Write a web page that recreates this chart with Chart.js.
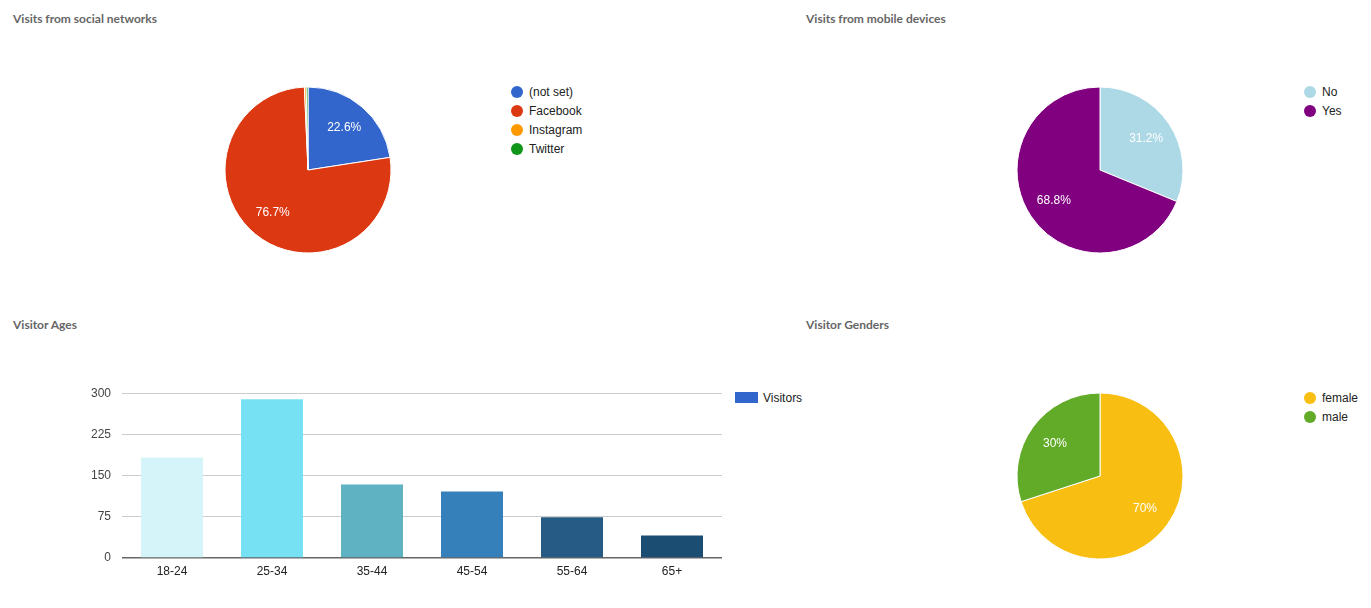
<!DOCTYPE html>
<html>
<head>
<meta charset="utf-8">
<script src="https://cdn.jsdelivr.net/npm/chart.js@4"></script>
<style>
  body { margin: 0; background: #fff; width: 1371px; height: 608px; position: relative; overflow: hidden; font-family: "Liberation Sans", Arial, sans-serif; }
  .title { position: absolute; font-family: Lato, sans-serif; font-weight: bold; font-size: 12px; color: #666; }
  .box { position: absolute; }
  .legend { position: absolute; font-size: 12px; color: #222; }
  .legend div { height: 19px; line-height: 12px; white-space: nowrap; }
  .legend span.dot { display: inline-block; width: 12px; height: 12px; border-radius: 50%; vertical-align: top; margin-right: 6px; }
  .legend span.sq { display: inline-block; width: 23px; height: 11px; vertical-align: top; margin-right: 5px; }
</style>
</head>
<body>
<div class="title" style="left:13px;top:11px">Visits from social networks</div>
<div class="title" style="left:806px;top:11px">Visits from mobile devices</div>
<div class="title" style="left:13px;top:317px">Visitor Ages</div>
<div class="title" style="left:806px;top:317px">Visitor Genders</div>

<div class="box" style="left:208px;top:70px;width:200px;height:200px"><canvas id="social"></canvas></div>
<div class="legend" id="socialLegend" style="left:511px;top:86px"></div>

<div class="box" style="left:1000px;top:70px;width:200px;height:200px"><canvas id="mobile"></canvas></div>
<div class="legend" id="mobileLegend" style="left:1304px;top:86px"></div>

<div class="box" style="left:82px;top:375px;width:640px;height:215px"><canvas id="ages"></canvas></div>
<div class="legend" id="agesLegend" style="left:735px;top:392px"></div>

<div class="box" style="left:1000px;top:376px;width:200px;height:200px"><canvas id="genders"></canvas></div>
<div class="legend" id="gendersLegend" style="left:1304px;top:392px"></div>

<script>
// social networks
const socialLabels = ['(not set)', 'Facebook', 'Instagram', 'Twitter'];
const socialValues = [65, 221, 1, 1];
const socialColors = ['#3366cc', '#dc3912', '#ff9900', '#109618'];

// mobile devices
const mobileLabels = ['No', 'Yes'];
const mobileValues = [31.2, 68.8];
const mobileColors = ['#add8e6', '#800080'];

// ages
const ageLabels = ['18-24', '25-34', '35-44', '45-54', '55-64', '65+'];
const ageValues = [183, 289, 134, 121, 74, 41];
const ageColors = ['#d4f4f9', '#76e1f3', '#5eb2c2', '#3580ba', '#255b84', '#1b4d73'];
const ageTicks = [0, 75, 150, 225, 300];

// genders
const genderLabels = ['female', 'male'];
const genderValues = [70, 30];
const genderColors = ['#f9be12', '#62ab29'];

Chart.defaults.font.family = '"Liberation Sans", Arial, sans-serif';
Chart.defaults.font.size = 12;
Chart.defaults.animation = false;

// percentage labels inside the slices
const pctLabels = {
  id: 'pctLabels',
  afterDatasetsDraw(chart) {
    const ctx = chart.ctx;
    const ds = chart.data.datasets[0];
    const total = ds.data.reduce((a, b) => a + b, 0);
    ctx.save();
    ctx.fillStyle = '#fff';
    ctx.font = '12px "Liberation Sans", Arial, sans-serif';
    ctx.textAlign = 'center';
    ctx.textBaseline = 'middle';
    chart.getDatasetMeta(0).data.forEach((arc, i) => {
      const pct = ds.data[i] / total * 100;
      if (pct < 5) return;
      const p = arc.getProps(['x', 'y', 'startAngle', 'endAngle', 'outerRadius'], true);
      const mid = (p.startAngle + p.endAngle) / 2;
      const r = p.outerRadius * 0.67;
      const txt = (Math.round(pct * 10) / 10) + '%';
      ctx.fillText(txt, p.x + Math.cos(mid) * r, p.y + Math.sin(mid) * r);
    });
    ctx.restore();
  }
};

function makePie(id, labels, values, colors) {
  new Chart(document.getElementById(id), {
    type: 'pie',
    data: {
      labels: labels,
      datasets: [{ data: values, backgroundColor: colors, borderColor: '#fff', borderWidth: 1 }]
    },
    options: {
      responsive: true,
      maintainAspectRatio: false,
      radius: 83,
      plugins: { legend: { display: false }, tooltip: { enabled: false } }
    },
    plugins: [pctLabels]
  });
}

function makeLegend(id, labels, colors, cls) {
  const el = document.getElementById(id);
  labels.forEach((l, i) => {
    const row = document.createElement('div');
    row.innerHTML = '<span class="' + cls + '" style="background:' + colors[i] + '"></span>' + l;
    el.appendChild(row);
  });
}

makePie('social', socialLabels, socialValues, socialColors);
makeLegend('socialLegend', socialLabels, socialColors, 'dot');
makePie('mobile', mobileLabels, mobileValues, mobileColors);
makeLegend('mobileLegend', mobileLabels, mobileColors, 'dot');
makePie('genders', genderLabels, genderValues, genderColors);
makeLegend('gendersLegend', genderLabels, genderColors, 'dot');

new Chart(document.getElementById('ages'), {
  type: 'bar',
  data: {
    labels: ageLabels,
    datasets: [{
      label: 'Visitors',
      data: ageValues,
      backgroundColor: ageColors,
      barPercentage: 0.62,
      categoryPercentage: 1
    }]
  },
  options: {
    responsive: true,
    maintainAspectRatio: false,
    layout: { padding: { top: 8, right: 0 } },
    plugins: { legend: { display: false }, tooltip: { enabled: false } },
    scales: {
      y: {
        min: 0,
        max: 300,
        afterBuildTicks: s => { s.ticks = ageTicks.map(v => ({ value: v })); },
        afterFit: s => { s.width = 40; },
        border: { display: false },
        grid: {
          color: c => c.tick.value === 0 ? '#666' : '#ccc',
          lineWidth: c => c.tick.value === 0 ? 1.5 : 1,
          drawTicks: false
        },
        ticks: { color: '#444', padding: 11 }
      },
      x: {
        afterFit: s => { s.height = 32; },
        grid: { display: false, drawTicks: false },
        border: { display: false },
        ticks: { color: '#222', padding: 6 }
      }
    }
  }
});
makeLegend('agesLegend', ['Visitors'], ['#3366cc'], 'sq');
</script>
</body>
</html>
